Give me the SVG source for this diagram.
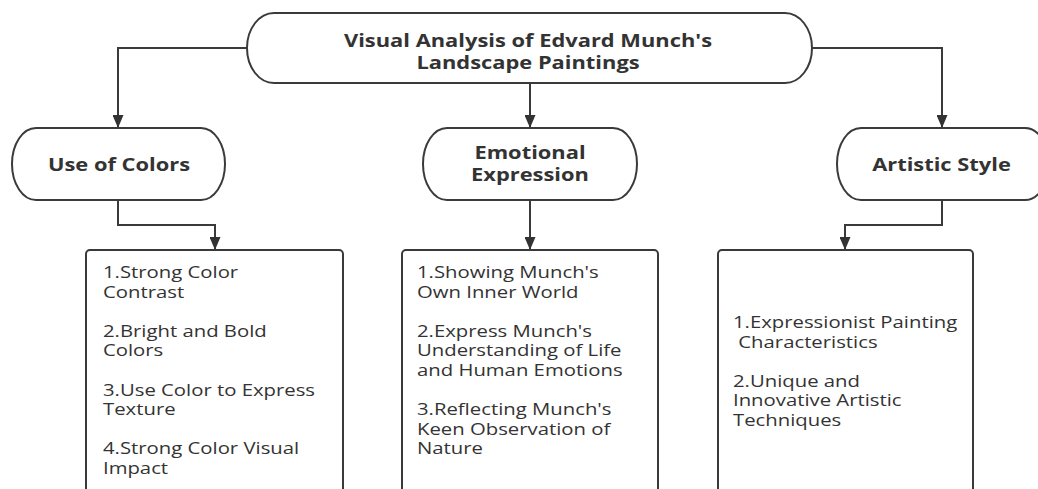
<svg xmlns="http://www.w3.org/2000/svg" width="1038" height="489" viewBox="0 0 1038 489">
<defs>
<marker id="arr" viewBox="0 0 13 11" refX="13" refY="5.5" markerWidth="13" markerHeight="11" markerUnits="userSpaceOnUse" orient="auto">
<path d="M0,0 L13,5.5 L0,11 z" fill="#333"/>
</marker>
<style>
.node{fill:#fff;stroke:#3a3a3a;stroke-width:2}
.conn{fill:none;stroke:#3a3a3a;stroke-width:2;marker-end:url(#arr)}
.title{font-family:"Open Sans","Noto Sans",sans-serif;font-weight:bold;font-size:17.5px;fill:#333;text-anchor:middle}
.lbl{font-family:"Open Sans","Noto Sans",sans-serif;font-weight:bold;font-size:17.5px;fill:#333;text-anchor:middle}
.body{font-family:"Open Sans","Noto Sans",sans-serif;font-size:16px;fill:#333}
</style>
</defs>
<rect width="1038" height="489" fill="#fff"/>
<g id="connectors">
<path class="conn" d="M247,48 H118 V128"/>
<path class="conn" d="M530,83 V128"/>
<path class="conn" d="M812,48 H942 V128"/>
<path class="conn" d="M118,200 V225 H215 V250"/>
<path class="conn" d="M530,200 V250"/>
<path class="conn" d="M942,200 V225 H845 V250"/>
</g>
<g id="root">
<rect class="node" x="247" y="13" width="565" height="70" rx="27" ry="35"/>
<text class="title" transform="translate(528,47) scale(1.25,1)"><tspan x="0">Visual Analysis of Edvard Munch's</tspan><tspan x="0" dy="22">Landscape Paintings</tspan></text>
</g>
<g id="use-of-colors">
<rect class="node" x="12" y="128" width="213" height="72" rx="24" ry="36"/>
<text class="lbl" transform="translate(119,171) scale(1.25,1)">Use of Colors</text>
</g>
<g id="emotional-expression">
<rect class="node" x="423" y="128" width="214" height="72" rx="24" ry="36"/>
<text class="lbl" transform="translate(530,159) scale(1.25,1)"><tspan x="0">Emotional</tspan><tspan x="0" dy="22">Expression</tspan></text>
</g>
<g id="artistic-style">
<rect class="node" x="837" y="128" width="212" height="72" rx="24" ry="36"/>
<text class="lbl" transform="translate(941.5,171) scale(1.25,1)">Artistic Style</text>
</g>
<g id="colors-details">
<rect class="node" x="86" y="250" width="257" height="260" rx="4"/>
<text class="body" transform="translate(103,278) scale(1.27,1)"><tspan x="0">1.Strong Color</tspan><tspan x="0" dy="19.6">Contrast</tspan><tspan x="0" dy="39.2">2.Bright and Bold</tspan><tspan x="0" dy="19.6">Colors</tspan><tspan x="0" dy="39.2">3.Use Color to Express</tspan><tspan x="0" dy="19.6">Texture</tspan><tspan x="0" dy="39.2">4.Strong Color Visual</tspan><tspan x="0" dy="19.6">Impact</tspan></text>
</g>
<g id="emotion-details">
<rect class="node" x="402" y="250" width="256" height="260" rx="4"/>
<text class="body" transform="translate(417,278) scale(1.27,1)"><tspan x="0">1.Showing Munch's</tspan><tspan x="0" dy="19.6">Own Inner World</tspan><tspan x="0" dy="39.2">2.Express Munch's</tspan><tspan x="0" dy="19.6">Understanding of Life</tspan><tspan x="0" dy="19.6">and Human Emotions</tspan><tspan x="0" dy="39.2">3.Reflecting Munch's</tspan><tspan x="0" dy="19.6">Keen Observation of</tspan><tspan x="0" dy="19.6">Nature</tspan></text>
</g>
<g id="style-details">
<rect class="node" x="718" y="250" width="255" height="260" rx="4"/>
<text class="body" transform="translate(733,328) scale(1.27,1)"><tspan x="0">1.Expressionist Painting</tspan><tspan x="4.2" dy="19.6">Characteristics</tspan><tspan x="0" dy="39.2">2.Unique and</tspan><tspan x="0" dy="19.6">Innovative Artistic</tspan><tspan x="0" dy="19.6">Techniques</tspan></text>
</g>
</svg>
